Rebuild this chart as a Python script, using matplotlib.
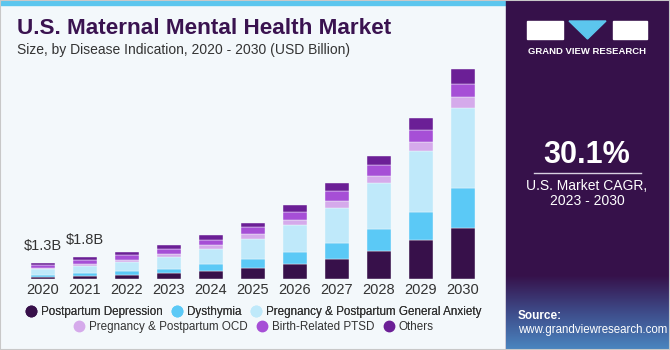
import numpy as np
import matplotlib.pyplot as plt
from matplotlib.lines import Line2D
from matplotlib.patches import Rectangle, Polygon
from matplotlib.colors import LinearSegmentedColormap

plt.rcParams['font.family'] = ['Liberation Sans', 'DejaVu Sans']

years = ['2020', '2021', '2022', '2023', '2024', '2025', '2026', '2027', '2028', '2029', '2030']
segments = ['Postpartum Depression', 'Dysthymia', 'Pregnancy & Postpartum General Anxiety',
            'Pregnancy & Postpartum OCD', 'Birth-Related PTSD', 'Others']
# USD billion
ppd = [0.17, 0.26, 0.31, 0.51, 0.68, 0.93, 1.24, 1.69, 2.37, 3.28, 4.32]
dysthymia = [0.14, 0.26, 0.34, 0.34, 0.56, 0.73, 1.02, 1.36, 1.84, 2.40, 3.39]
anxiety = [0.48, 0.58, 0.73, 1.02, 1.30, 1.69, 2.32, 2.97, 3.90, 5.17, 6.75]
ocd = [0.08, 0.15, 0.20, 0.23, 0.28, 0.42, 0.40, 0.54, 0.59, 0.71, 0.93]
ptsd = [0.25, 0.35, 0.42, 0.42, 0.45, 0.62, 0.71, 0.88, 0.96, 1.05, 1.10]
others = [0.17, 0.20, 0.23, 0.31, 0.42, 0.37, 0.54, 0.68, 0.73, 0.99, 1.24]
labels = {0: '$1.3B', 1: '$1.8B'}

colors = ['#37104a', '#5bc9f6', '#bfe9fa', '#d5aaeb', '#a64fd6', '#6b1f96']
series = [ppd, dysthymia, anxiety, ocd, ptsd, others]

fig = plt.figure(figsize=(6.7, 3.5), dpi=100)
fig.patch.set_facecolor('#f3f8fb')

# top blue strip and right dark panel
fig.add_artist(Rectangle((0, 1 - 5 / 350), 506 / 670, 5 / 350, transform=fig.transFigure,
                         color='#5cc6ee', zorder=0))
fig.add_artist(Rectangle((506 / 670, 0), 164 / 670, 1, transform=fig.transFigure,
                         color='#36114a', zorder=0))
# bluish fade at the bottom of the panel
grad = np.linspace(0, 1, 100).reshape(-1, 1)
gax = fig.add_axes([506 / 670, 0, 164 / 670, 75 / 350])
cm = LinearSegmentedColormap.from_list('fade', ['#4a86c0', '#3e4c8a', '#36114a'])
gax.imshow(grad, aspect='auto', cmap=cm, origin='lower', extent=[0, 1, 0, 1])
gax.axis('off')

ax = fig.add_axes([22 / 670, 71.3 / 350, 462 / 670, 212.4 / 350])
ax.set_facecolor('none')
x = np.arange(len(years))
bottom = np.zeros(len(years))
for vals, c in zip(series, colors):
    ax.bar(x, vals, 0.58, bottom=bottom, color=c, edgecolor='#f3f8fb', linewidth=0.3)
    bottom += np.array(vals)

for i, t in labels.items():
    ax.text(x[i], bottom[i] + 0.9, t, ha='center', va='bottom', fontsize=10.5, color='#333333')

ax.set_xlim(-0.5, 10.5)
ax.set_ylim(0, 18)
ax.set_xticks(x)
ax.set_xticklabels(years, fontsize=10.5, color='#333333')
ax.tick_params(axis='x', length=0, pad=3)
ax.set_yticks([])
for s in ax.spines.values():
    s.set_visible(False)

handles = [Line2D([], [], marker='o', linestyle='none', markersize=7.5, color=c) for c in colors]
leg_kw = dict(loc='center', ncol=3, frameon=False, fontsize=8.4, handletextpad=0.3,
              columnspacing=0.7, handlelength=1.1, borderpad=0)
leg1 = fig.legend(handles[:3], segments[:3], bbox_to_anchor=(253 / 670, 1 - 312 / 350), **leg_kw)
fig.add_artist(leg1)
leg2 = fig.legend(handles[3:], segments[3:], bbox_to_anchor=(253 / 670, 1 - 327 / 350), **leg_kw)
for leg in (leg1, leg2):
    for t in leg.get_texts():
        t.set_color('#333333')

fig.text(17 / 670, 1 - 29 / 350, 'U.S. Maternal Mental Health Market', fontsize=16.2,
         fontweight='bold', color='#3a1350', va='center')
fig.text(17 / 670, 1 - 50 / 350, 'Size, by Disease Indication, 2020 - 2030 (USD Billion)',
         fontsize=10, color='#333333', va='center')

# logo
fig.add_artist(Rectangle((527 / 670, 1 - 39 / 350), 36 / 670, 18 / 350, transform=fig.transFigure,
                         color='white'))
fig.add_artist(Polygon([(569 / 670, 1 - 21 / 350), (606 / 670, 1 - 21 / 350), (587.5 / 670, 1 - 39 / 350)],
                       transform=fig.transFigure, color='#5cc6ee'))
fig.add_artist(Rectangle((613 / 670, 1 - 39 / 350), 34 / 670, 18 / 350, transform=fig.transFigure,
                         color='white'))
fig.text(587 / 670, 1 - 51 / 350, 'GRAND VIEW RESEARCH', fontsize=6.8, fontweight='bold',
         color='white', ha='center', va='center')

fig.text(587 / 670, 1 - 155 / 350, '30.1%', fontsize=22, fontweight='bold', color='white',
         ha='center', va='center')
fig.add_artist(Line2D([534 / 670, 641 / 670], [1 - 173 / 350] * 2, transform=fig.transFigure,
                      color='#d8d0e0', linewidth=1))
fig.text(587 / 670, 1 - 186 / 350, 'U.S. Market CAGR,', fontsize=10, color='white',
         ha='center', va='center')
fig.text(587 / 670, 1 - 201 / 350, '2023 - 2030', fontsize=10, color='white',
         ha='center', va='center')
fig.text(518 / 670, 1 - 316 / 350, 'Source:', fontsize=8.5, fontweight='bold', color='white', va='center')
fig.text(518 / 670, 1 - 330 / 350, 'www.grandviewresearch.com', fontsize=8.3, color='white', va='center')

fig.add_artist(Rectangle((0, 0), 1, 1, transform=fig.transFigure, fill=False,
                         edgecolor='#c8c8c8', linewidth=1.5))

fig.savefig('out.png', dpi=100, facecolor=fig.get_facecolor())
